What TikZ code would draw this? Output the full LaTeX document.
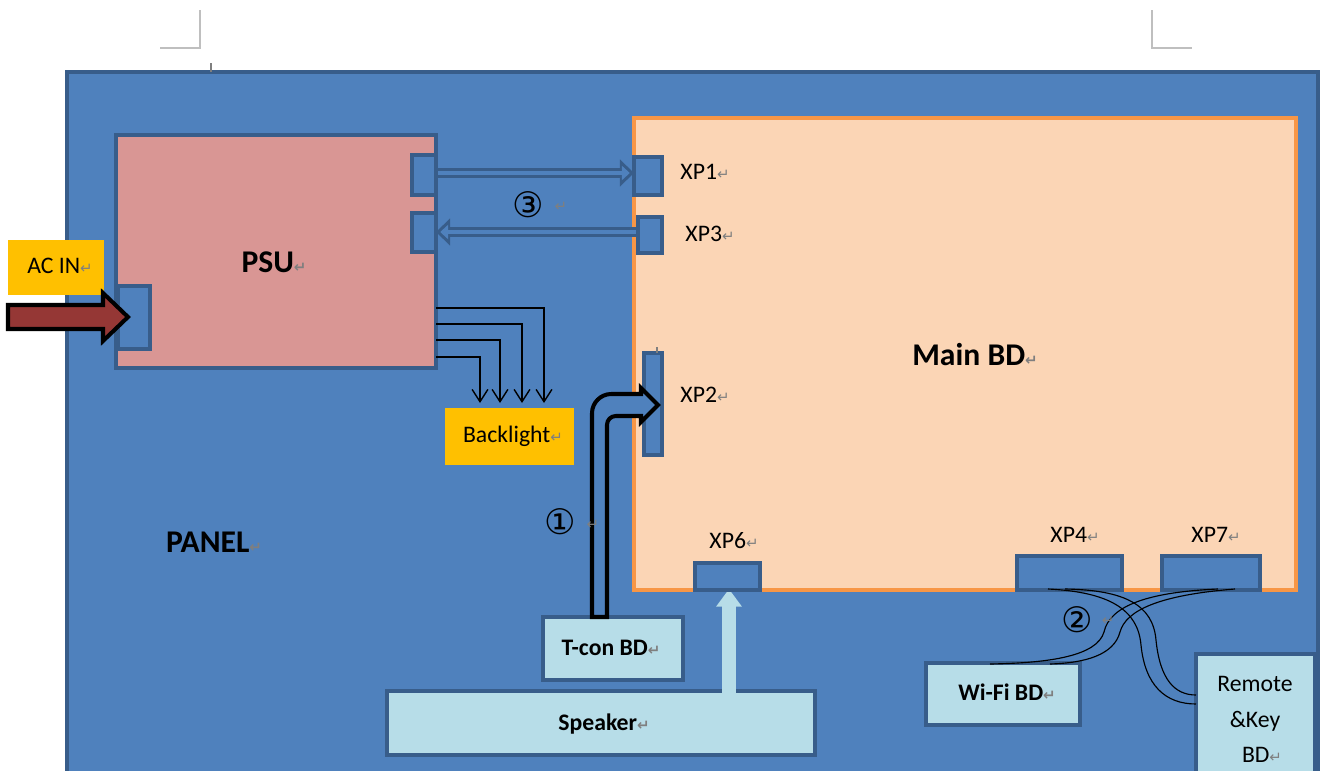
\documentclass[tikz,border=0pt]{standalone}
\usepackage{fontspec}
\setmainfont{Carlito}
\newfontfamily\symfont{DejaVu Sans}
\usetikzlibrary{arrows.meta,calc,fit}
\definecolor{panelblue}{HTML}{4F81BD}
\definecolor{darkblue}{HTML}{385D8A}
\definecolor{psupink}{HTML}{D99694}
\definecolor{mainpeach}{HTML}{FBD5B5}
\definecolor{mainorange}{HTML}{F79646}
\definecolor{goldfill}{HTML}{FFC000}
\definecolor{lightblue}{HTML}{B7DDE8}
\definecolor{arrowred}{HTML}{953735}
\definecolor{retgray}{HTML}{7F7F7F}
\definecolor{markgray}{HTML}{BFBFBF}
\newcommand\retm{{\symfont\fontsize{8.5pt}{9pt}\selectfont\color{retgray}↵}}
\begin{document}
\begin{tikzpicture}[x=0.02cm,y=-0.02cm,
  rect/.style={inner sep=0pt, outer sep=0pt, line width=2pt},
  panelbox/.style={rect, fill=panelblue, draw=darkblue, line width=2.5pt},
  psubox/.style={rect, fill=psupink, draw=darkblue},
  mainbox/.style={rect, fill=mainpeach, draw=mainorange},
  conn/.style={rect, fill=panelblue, draw=darkblue},
  goldbox/.style={rect, fill=goldfill},
  ltbox/.style={rect, fill=lightblue, draw=darkblue},
  lbl/.style={inner sep=0pt, text height=0.7em, text depth=0.2em},
  bigtxt/.style={lbl, font=\bfseries\fontsize{18pt}{20pt}\selectfont},
  txt/.style={lbl, font=\fontsize{13.5pt}{15pt}\selectfont},
  btxt/.style={lbl, font=\bfseries\fontsize{13.5pt}{15pt}\selectfont},
  num/.style={inner sep=0pt, font=\symfont\fontsize{20pt}{22pt}\selectfont},
  retnode/.style={inner sep=0pt, font=\symfont\fontsize{8.5pt}{9pt}\selectfont, text=retgray},
  cornermark/.style={draw=markgray, line width=1pt},
  dblout/.style={draw=darkblue, line width=6pt, -{Triangle[length=8pt,width=15pt]}},
  dblin/.style={draw=panelblue, line width=2.3pt, shorten >=2.4pt, -{Triangle[length=4.5pt,width=8pt]}},
  blline/.style={draw=black, line width=0.8pt, -{Straight Barb[length=7pt,width=9pt]}},
  cable/.style={draw=black, line width=0.65pt},
  spkarrow/.style={draw=lightblue, line width=8pt, -{Triangle[length=10pt,width=14pt]}},
  fatarrow/.style={fill=panelblue, draw=black, line width=2.3pt, line join=miter},
  acarrow/.style={fill=arrowred, draw=black, line width=2.3pt, line join=miter}
]
\useasboundingbox (0,0) rectangle (1320,771);
\clip (0,0) rectangle (1320,771);

% page corner marks
\draw[cornermark] (160,48) -- (200,48) -- (200,10);
\draw[cornermark] (1152,10) -- (1152,48) -- (1192,48);

% panel
\node[panelbox, fit={(67,72) (1318,830)}] (panel) {};
\draw[retgray, line width=0.8pt] (211,63) -- (211,72);

% PSU
\node[psubox, fit={(116,135) (436,368)}] (psu) {};
\node[bigtxt] (psut) at (274,268) {PSU\retm};

% Main BD
\node[mainbox, fit={(634,118) (1296,590)}] (main) {};
\node[bigtxt] (maint) at (975,361) {Main BD\retm};

% gold boxes
\node[goldbox, fit={(8,240) (104,295)}] (acin) {};
\node[txt] (acint) at (60,269) {AC IN\retm};
\node[goldbox, fit={(445,408) (574,465)}] (bl) {};
\node[txt] (blt) at (513,438) {Backlight\retm};

% light blue boards
\node[ltbox, fit={(543,617) (683,680)}] (tcon) {};
\node[btxt] (tcont) at (611,651) {T-con BD\retm};
\node[ltbox, fit={(387,691) (815,755)}] (spk) {};
\node[btxt] (spkt) at (604,726) {Speaker\retm};
\node[ltbox, fit={(926,663) (1080,725)}] (wifi) {};
\node[btxt] (wifit) at (1007,696) {Wi-Fi BD\retm};
\node[ltbox, fit={(1196,654) (1315,830)}] (rk) {};
\node[txt] (rk1) at (1255,687) {Remote};
\node[txt] (rk2) at (1255,723) {\&Key};
\node[txt] (rk3) at (1262,758) {BD\retm};

\node[bigtxt] (panelt) at (214,548) {PANEL\retm};

% connectors on PSU (placed first for arrow anchors)
\node[conn, fit={(412,155) (436,195)}] (psuc1) {};
\node[conn, fit={(412,213) (436,252)}] (psuc2) {};
\coordinate (xp1in) at (634,173);
\coordinate (xp3in) at (638,232);

% (3) double arrows
\draw[dblout] (psuc1.east |- xp1in) -- (xp1in);
\draw[dblin]  (psuc1.east |- xp1in) -- (xp1in);
\draw[dblout] (xp3in) -- (psuc2.east |- xp3in);
\draw[dblin]  (xp3in) -- (psuc2.east |- xp3in);
\node[num] (n3) at (528,205) {③};
\node[retnode] (n3r) at (561,207) {↵};

% connectors
\node[conn, fit={(412,155) (436,195)}] (psuc1b) {};
\node[conn, fit={(412,213) (436,252)}] (psuc2b) {};
\node[conn, fit={(118,286) (150,349)}] (acc) {};
\node[conn, fit={(634,157) (662,195)}] (xp1) {};
\node[txt] (xp1t) at (705,175) {XP1\retm};
\node[conn, fit={(638,217) (662,253)}] (xp3) {};
\node[txt] (xp3t) at (710,237) {XP3\retm};
\node[conn, fit={(644,353) (662,455)}] (xp2) {};
\node[txt] (xp2t) at (705,398) {XP2\retm};
\draw[retgray, line width=0.6pt] (657,347) -- (657,353);
\node[txt] (xp6t) at (734,544) {XP6\retm};
\node[txt] (xp4t) at (1075,538) {XP4\retm};
\node[txt] (xp7t) at (1216,538) {XP7\retm};

% speaker arrow to XP6
\coordinate (xp6bot) at (729,589);
\draw[spkarrow] (xp6bot |- 0,693) -- (xp6bot);
\node[conn, fit={(695,563) (760,590)}] (xp6) {};

\node[conn, fit={(1017,556) (1122,590)}] (xp4) {};
\node[conn, fit={(1162,556) (1260,590)}] (xp7) {};

% backlight feeds
\coordinate (b1) at (544,403);
\coordinate (b2) at (522,403);
\coordinate (b3) at (500,403);
\coordinate (b4) at (480,403);
\draw[blline] (psu.east |- 0,308) -| (b1);
\draw[blline] (psu.east |- 0,324) -| (b2);
\draw[blline] (psu.east |- 0,340) -| (b3);
\draw[blline] (psu.east |- 0,357) -| (b4);

% AC IN arrow
\coordinate (actip) at (128,317);
\draw[acarrow] ($(actip)+(-120,-12)$) -- ($(actip)+(-25,-12)$) -- ($(actip)+(-25,-24)$)
  -- (actip) -- ($(actip)+(-25,24)$) -- ($(actip)+(-25,12)$) -- ($(actip)+(-120,12)$) -- cycle;

% (1) T-con to XP2 arrow
\coordinate (tbase) at (599,617);
\coordinate (ttip) at (658,405);
\draw[fatarrow] ($(tbase)+(-7,0)$) [rounded corners=11pt] -- ($(tbase)+(-7,-223)$) [sharp corners] -- ($(ttip)+(-17,-11)$)
  -- ($(ttip)+(-17,-17)$) -- (ttip) -- ($(ttip)+(-17,17)$) -- ($(ttip)+(-17,11)$)
  [rounded corners=5pt] -- ($(tbase)+(8,-201)$) [sharp corners] -- ($(tbase)+(8,0)$) -- cycle;
\node[num] (n1) at (560,522) {①};
\node[retnode] (n1r) at (593,525) {↵};

% (2) cables
\coordinate (c4a) at (1048,589);
\coordinate (c4b) at (1065,589);
\coordinate (c7a) at (1218,589);
\coordinate (c7b) at (1235,589);
\coordinate (rka) at (1196,704);
\coordinate (rkb) at (1196,695);
\coordinate (wfa) at (990,664);
\coordinate (wfb) at (1050,664);
\draw[cable] (c4a) .. controls (1110,592) and (1138,610) .. (1141,645) .. controls (1145,685) and (1165,704) .. (rka);
\draw[cable] (c4b) .. controls (1125,590) and (1153,605) .. (1156,640) .. controls (1160,680) and (1175,695) .. (rkb);
\draw[cable] (c7a) .. controls (1150,592) and (1110,605) .. (1104,632) .. controls (1097,656) and (1050,663) .. (wfa);
\draw[cable] (c7b) .. controls (1160,595) and (1126,610) .. (1120,632) .. controls (1114,655) and (1085,663) .. (wfb);
\node[num] (n2) at (1077,620) {②};
\node[retnode] (n2r) at (1108,621) {↵};
\end{tikzpicture}
\end{document}
